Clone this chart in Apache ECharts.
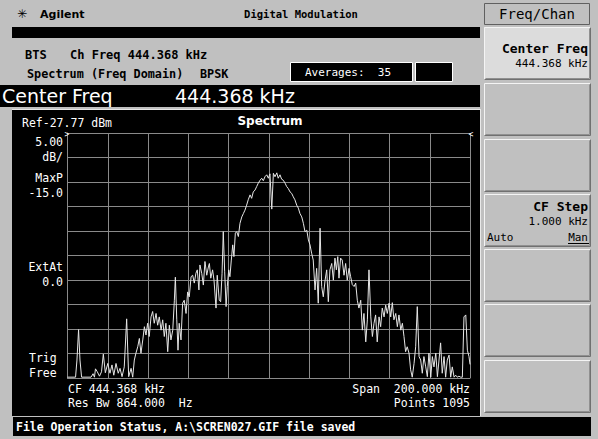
<!DOCTYPE html>
<html><head><meta charset="utf-8">
<script src="https://cdn.jsdelivr.net/npm/echarts@6/dist/echarts.min.js"></script>
<style>html,body{margin:0;padding:0;background:#c0c0c0;}#c{width:598px;height:439px;}</style>
</head><body><div id="c"></div>
<script>
// ---- instrument settings ----
const centerFreqKHz = 444.368;
const spanKHz = 200;
const refLevelDBm = -27.77;
const dbPerDiv = 5;
const divisions = 10;
const averages = 35;
const resBwHz = 864.000;
const points = 1095;
const cfStepKHz = 1.000;

// ---- trace: [frequency offset from CF (kHz), level (dBm)] ----
const spectrumTrace = [
[-100.0,-77.6],[-96.0,-77.6],[-95.3,-74.1],[-94.5,-67.9],[-93.8,-74.1],[-93.0,-77.6],[-88.3,-77.6],[-87.3,-76.9],
[-86.6,-77.6],[-86.1,-75.9],[-85.2,-76.5],[-84.1,-77.4],[-83.1,-76.5],[-82.2,-72.9],[-81.2,-76.7],[-80.0,-74.8],
[-78.9,-76.8],[-77.9,-75.1],[-77.0,-77.2],[-75.9,-74.8],[-74.8,-76.8],[-73.9,-75.8],[-72.9,-77.5],[-71.8,-75.5],
[-70.6,-65.7],[-69.6,-77.5],[-68.4,-75.8],[-67.6,-77.6],[-66.8,-74.1],[-66.0,-72.7],[-65.1,-71.4],[-64.3,-69.7],
[-63.5,-72.7],[-62.6,-70.0],[-61.8,-67.3],[-61.0,-69.0],[-60.2,-66.6],[-59.4,-69.3],[-58.5,-65.3],[-57.7,-64.2],
[-56.9,-66.6],[-56.0,-64.6],[-55.2,-67.0],[-54.4,-65.3],[-53.5,-68.0],[-52.7,-65.9],[-51.9,-69.3],[-51.1,-66.6],
[-50.2,-72.4],[-49.4,-67.0],[-48.6,-70.0],[-47.7,-68.0],[-46.9,-61.9],[-46.4,-57.2],[-45.7,-65.9],[-45.1,-72.1],
[-44.5,-66.6],[-43.6,-70.0],[-42.8,-62.5],[-42.0,-61.9],[-41.1,-64.6],[-40.3,-60.2],[-39.5,-61.2],[-38.6,-57.1],
[-37.8,-56.8],[-37.0,-58.4],[-36.2,-56.4],[-35.5,-55.7],[-34.7,-59.8],[-34.2,-54.7],[-33.3,-56.4],[-32.5,-58.8],
[-31.7,-54.0],[-30.8,-56.8],[-30.0,-55.1],[-29.5,-54.4],[-28.8,-57.4],[-27.9,-55.7],[-27.2,-57.8],[-26.2,-63.5],
[-25.6,-56.8],[-24.6,-61.9],[-23.9,-62.2],[-23.2,-56.4],[-22.6,-47.9],[-21.9,-56.1],[-21.2,-63.2],[-20.6,-59.1],
[-19.9,-55.7],[-19.3,-57.1],[-18.6,-53.7],[-17.9,-50.6],[-17.3,-53.0],[-16.6,-48.2],[-15.9,-47.9],[-15.1,-48.9],
[-14.3,-46.2],[-13.4,-44.9],[-12.6,-44.2],[-11.8,-43.5],[-11.0,-42.5],[-10.2,-41.4],[-9.3,-40.4],[-8.5,-41.1],
[-7.7,-39.8],[-6.8,-39.4],[-6.0,-38.7],[-5.2,-38.0],[-4.3,-37.4],[-3.5,-37.0],[-2.7,-37.5],[-1.9,-36.7],
[-1.0,-36.3],[-0.2,-37.0],[0.6,-36.1],[1.5,-43.3],[2.3,-36.0],[3.1,-36.7],[4.0,-35.9],[4.7,-37.0],
[5.6,-36.3],[6.4,-37.2],[7.2,-37.4],[8.1,-38.0],[8.9,-38.7],[9.7,-39.1],[10.6,-39.8],[11.4,-40.1],
[12.2,-40.8],[13.0,-41.4],[13.9,-42.5],[14.7,-43.1],[15.5,-44.2],[16.4,-44.9],[17.2,-46.2],[18.0,-47.9],
[18.9,-47.6],[19.7,-49.6],[20.5,-50.6],[21.3,-52.3],[22.1,-53.7],[23.0,-59.8],[23.8,-55.4],[24.6,-62.5],
[25.5,-47.2],[26.3,-59.1],[27.1,-61.2],[28.0,-57.8],[28.8,-55.7],[29.6,-62.2],[30.4,-55.7],[31.3,-54.4],
[32.1,-57.8],[32.9,-53.3],[33.6,-55.7],[34.3,-53.0],[34.9,-57.4],[35.7,-53.3],[36.5,-53.7],[37.4,-56.8],
[38.2,-54.4],[39.0,-57.8],[39.9,-55.4],[40.7,-57.1],[41.5,-58.7],[42.4,-59.1],[43.2,-58.4],[44.0,-61.9],
[44.8,-63.5],[45.7,-61.9],[46.5,-68.0],[47.3,-64.6],[48.2,-70.4],[49.0,-65.9],[49.8,-55.7],[50.7,-65.3],
[51.5,-69.3],[52.3,-66.6],[53.1,-64.9],[53.9,-70.4],[54.8,-65.3],[55.6,-67.3],[56.4,-63.5],[57.3,-65.3],
[58.1,-62.9],[58.9,-64.6],[59.8,-62.5],[60.6,-65.3],[61.4,-62.4],[62.2,-65.9],[63.1,-64.6],[63.9,-67.3],
[64.7,-64.9],[65.6,-68.0],[66.4,-66.6],[67.2,-69.3],[68.0,-72.4],[68.8,-71.4],[69.7,-72.7],[70.5,-76.1],
[71.3,-77.6],[72.2,-74.8],[73.0,-71.4],[73.8,-63.2],[74.7,-73.4],[75.5,-74.1],[76.3,-76.8],[77.1,-73.4],
[78.0,-75.5],[78.8,-77.5],[79.6,-72.7],[80.5,-77.6],[81.3,-73.4],[82.1,-75.5],[83.0,-72.7],[83.8,-77.5],
[84.6,-74.1],[85.4,-70.6],[86.2,-76.8],[87.1,-73.4],[87.9,-77.6],[88.7,-74.1],[89.6,-73.1],[90.4,-77.6],
[91.2,-75.5],[92.1,-77.6],[92.9,-77.2],[93.7,-77.6],[94.5,-77.4],[95.4,-77.6],[96.2,-77.6],[97.0,-65.3],
[97.9,-64.9],[98.7,-72.1],[99.5,-73.4],[100.0,-75.0]
];

// ---- texts ----
const leftLabels = [['5.00',142],['dB/',157],['MaxP',178],['-15.0',193],['ExtAt',267],['0.0',282]];
const trigLabels = [['Trig',358],['Free',373]];

const MONO = '"DejaVu Sans Mono"';
const SANS = '"DejaVu Sans"';
function T(x, y, text, font, fill, align) {
  return { type: 'text', z: 100, silent: true,
    style: { x: x, y: y, text: text, font: font, fill: fill || '#fff', align: align || 'left', verticalAlign: 'middle' } };
}
function R(x, y, w, h, fill, stroke, z) {
  return { type: 'rect', z: z === undefined ? -10 : z, silent: true,
    shape: { x: x, y: y, width: w, height: h },
    style: { fill: fill, stroke: stroke || null, lineWidth: 1 } };
}
function L(x1, y1, x2, y2, c, z) {
  return { type: 'line', z: z === undefined ? -5 : z, silent: true,
    shape: { x1: x1, y1: y1, x2: x2, y2: y2 }, style: { stroke: c, lineWidth: 1 } };
}
function key(y, h, fill) {
  const x = 484, w = 107;
  return [R(x, y, w, h, fill, null, -9),
    L(x + 0.5, y + 0.5, x + w - 0.5, y + 0.5, '#f4f4f4', -8), L(x + 0.5, y + 0.5, x + 0.5, y + h - 0.5, '#f4f4f4', -8),
    L(x + 0.5, y + h - 0.5, x + w - 0.5, y + h - 0.5, '#707070', -8), L(x + w - 0.5, y + 0.5, x + w - 0.5, y + h - 0.5, '#707070', -8),
    L(x + 1.5, y + h - 1.5, x + w - 1.5, y + h - 1.5, '#909090', -8), L(x + w - 1.5, y + 1.5, x + w - 1.5, y + h - 1.5, '#909090', -8)];
}

const g = [];
// header
g.push(T(22, 14, '✳', '12px ' + SANS, '#000', 'center'));
g.push(T(40, 14, 'Agilent', 'bold 11px ' + SANS, '#000'));
g.push(T(301, 14, 'Digital Modulation', 'bold 10.5px ' + MONO, '#000', 'center'));
g.push(R(12, 27, 468, 11, '#000'));
// info rows
g.push(T(25, 55, 'BTS', 'bold 12px ' + MONO, '#000'));
g.push(T(70, 55, 'Ch Freq ' + centerFreqKHz.toFixed(3) + ' kHz', 'bold 12px ' + MONO, '#000'));
g.push(T(27, 74, 'Spectrum (Freq Domain)', 'bold 11.8px ' + MONO, '#000'));
g.push(T(200, 74, 'BPSK', 'bold 11.8px ' + MONO, '#000'));
g.push(R(290.5, 62.5, 122, 19, '#000', '#fff'));
g.push(R(415.5, 62.5, 37, 19, '#000', '#fff'));
g.push(T(305, 72, 'Averages:  ' + averages, '11px ' + MONO, '#fff'));
// center freq bar
g.push(R(0, 85, 480, 22, '#000'));
g.push(T(2, 96, 'Center Freq', '19px ' + SANS, '#fff'));
g.push(T(175, 96, centerFreqKHz.toFixed(3) + ' kHz', '19px ' + SANS, '#fff'));
// graph panel
g.push(R(12, 110, 468, 306, '#000'));
g.push(L(12, 109.5, 480, 109.5, '#e8e8e8'));
g.push(L(480.5, 109, 480.5, 416, '#e8e8e8'));
g.push(T(22, 123, 'Ref' + refLevelDBm.toFixed(2) + ' dBm', '11.5px ' + MONO, '#fff'));
g.push(T(270, 121, 'Spectrum', 'bold 12px ' + SANS, '#fff', 'center'));
g.push(T(67, 134, '>', '8px ' + MONO, '#fff', 'center'));
g.push(T(471, 134, '<', '8px ' + MONO, '#fff', 'center'));
leftLabels.forEach(function (l) { g.push(T(63, l[1], l[0], '11.5px ' + MONO, '#fff', 'right')); });
trigLabels.forEach(function (l) { g.push(T(29, l[1], l[0], '11.5px ' + MONO, '#fff')); });
g.push(T(68, 389, 'CF ' + centerFreqKHz.toFixed(3) + ' kHz', '11.5px ' + MONO, '#fff'));
g.push(T(68, 403, 'Res Bw ' + resBwHz.toFixed(3) + '  Hz', '11.5px ' + MONO, '#fff'));
g.push(T(470, 389, 'Span  ' + spanKHz.toFixed(3) + ' kHz', '11.5px ' + MONO, '#fff', 'right'));
g.push(T(470, 403, 'Points ' + points, '11.5px ' + MONO, '#fff', 'right'));
// status bar
g.push(R(13, 417, 578, 19, '#000'));
g.push(T(16, 426.5, 'File Operation Status, A:\\SCREN027.GIF file saved', 'bold 11.5px ' + MONO, '#fff'));
// softkeys
g.push(R(484.5, 3.5, 105, 21, '#c0c0c0', '#606060', -9));
g.push(T(537, 14, 'Freq/Chan', '14px ' + MONO, '#000', 'center'));
const keyTops = [27, 83, 139, 194, 249, 304, 360];
keyTops.forEach(function (y, i) { key(y, 53, i === 0 ? '#dcdcdc' : '#c0c0c0').forEach(function (e) { g.push(e); }); });
g.push(T(588, 48, 'Center Freq', 'bold 13px ' + MONO, '#000', 'right'));
g.push(T(588, 63, centerFreqKHz.toFixed(3) + ' kHz', '11px ' + MONO, '#000', 'right'));
g.push(T(588, 206, 'CF Step', 'bold 13px ' + MONO, '#000', 'right'));
g.push(T(588, 221, cfStepKHz.toFixed(3) + ' kHz', '11px ' + MONO, '#000', 'right'));
g.push(T(487, 237, 'Auto', '11px ' + MONO, '#000'));
g.push(T(588, 237, 'Man', '11px ' + MONO, '#000', 'right'));
g.push(L(568, 243.5, 589, 243.5, '#000', 100));

const chart = echarts.init(document.getElementById('c'), null, { renderer: 'svg' });
const gridColor = '#8a8a8a';
chart.setOption({
  animation: false,
  backgroundColor: '#c0c0c0',
  grid: { left: 67.5, top: 133, width: 402.5, height: 245, containLabel: false, show: false },
  xAxis: {
    type: 'value', min: -spanKHz / 2, max: spanKHz / 2, interval: spanKHz / divisions,
    axisLine: { show: true, onZero: false, lineStyle: { color: gridColor, width: 1 } },
    axisTick: { show: false }, axisLabel: { show: false },
    splitLine: { show: true, lineStyle: { color: gridColor, width: 1 } }
  },
  yAxis: {
    type: 'value', min: -dbPerDiv * divisions, max: 0, interval: dbPerDiv,
    axisLine: { show: true, onZero: false, lineStyle: { color: gridColor, width: 1 } },
    axisTick: { show: false }, axisLabel: { show: false },
    splitLine: { show: true, lineStyle: { color: gridColor, width: 1 } }
  },
  graphic: { elements: g },
  series: [{
    type: 'line', showSymbol: false, symbol: 'none', clip: true, z: 5,
    lineStyle: { color: '#e6e6e6', width: 1 },
    data: spectrumTrace.map(function (p) { return [p[0], p[1] - refLevelDBm]; })
  }]
});
</script>
</body></html>
